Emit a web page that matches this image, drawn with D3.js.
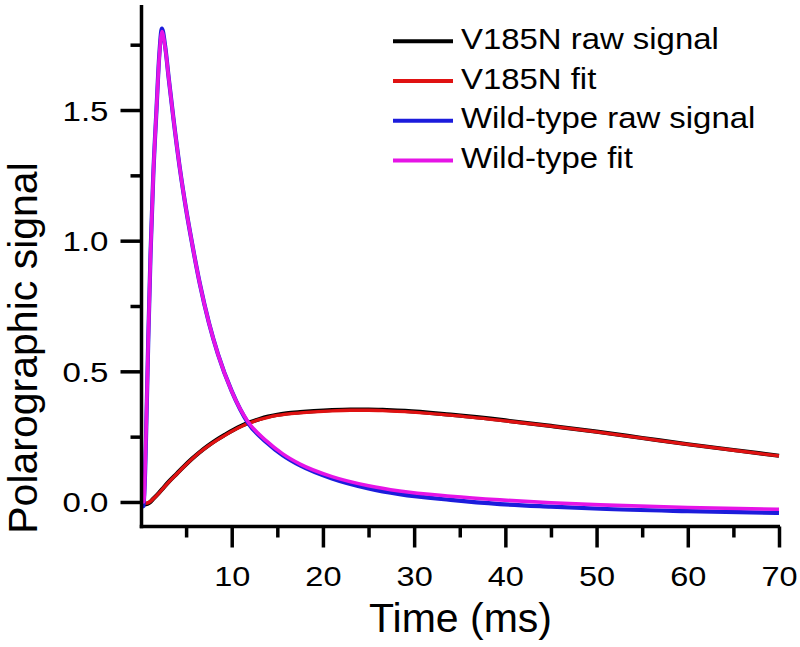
<!DOCTYPE html>
<html>
<head>
<meta charset="utf-8">
<script src="https://cdn.jsdelivr.net/npm/d3@7"></script>
<style>
  html, body { margin: 0; padding: 0; background: #fff; }
  svg { display: block; font-family: "Liberation Sans", Arial, Helvetica, sans-serif; }
</style>
</head>
<body>
<svg id="chart" width="800" height="647"></svg>
<script>
// ---- data ----
const timeWT      = [0, 0.35, 0.6, 0.85, 1.1, 1.4, 1.75, 2.05, 2.35, 2.7, 3.1, 3.6, 4.3, 5.0, 5.6, 6.5, 7.5, 8.5, 10, 11.8, 13.8, 15.6, 17.5, 21, 25, 28.4, 34, 39.4, 45, 50.4, 60, 70];
const wtFit       = [0, 0.0, 0.25, 0.62, 0.95, 1.25, 1.5, 1.7, 1.8, 1.74, 1.62, 1.47, 1.28, 1.12, 1.0, 0.836, 0.686, 0.565, 0.424, 0.306, 0.234, 0.184, 0.145, 0.097, 0.062, 0.042, 0.022, 0.008, -0.003, -0.011, -0.021, -0.028];
const wtRaw       = [-0.02, -0.015, 0.24, 0.62, 0.95, 1.25, 1.5, 1.705, 1.812, 1.745, 1.62, 1.47, 1.28, 1.12, 1.0, 0.836, 0.686, 0.565, 0.424, 0.302, 0.229, 0.179, 0.14, 0.09, 0.052, 0.03, 0.008, -0.008, -0.018, -0.026, -0.035, -0.042];

const timeV       = [0, 0.5, 1.0, 1.4, 2.0, 2.6, 3.2, 4.0, 4.7, 5.6, 6.5, 7.4, 8.35, 9.3, 10.2, 11.1, 12, 13, 14, 15, 16, 17.5, 19, 21, 23, 25, 27, 29, 34, 40, 45, 50, 55, 60, 65, 70];
const v185Fit     = [0, -0.005, 0.0, 0.012, 0.033, 0.057, 0.08, 0.108, 0.133, 0.163, 0.19, 0.214, 0.236, 0.256, 0.274, 0.29, 0.303, 0.315, 0.324, 0.331, 0.336, 0.341, 0.345, 0.349, 0.351, 0.351, 0.349, 0.346, 0.332, 0.31, 0.29, 0.268, 0.244, 0.22, 0.198, 0.176];
const v185Raw     = [-0.01, -0.009, -0.002, 0.012, 0.034, 0.058, 0.081, 0.109, 0.134, 0.164, 0.191, 0.215, 0.238, 0.258, 0.276, 0.292, 0.305, 0.317, 0.327, 0.334, 0.339, 0.344, 0.348, 0.352, 0.354, 0.354, 0.352, 0.349, 0.334, 0.312, 0.291, 0.269, 0.245, 0.221, 0.199, 0.177];

const xTicksMajor = [10, 20, 30, 40, 50, 60, 70];
const xTicksMinor = [5, 15, 25, 35, 45, 55, 65];
const yTicksMajor = [0.0, 0.5, 1.0, 1.5];
const yTicksMinor = [0.25, 0.75, 1.25, 1.75];

const legendLabels = ["V185N raw signal", "V185N fit", "Wild-type raw signal", "Wild-type fit"];
const seriesColors = ["#000000", "#e01212", "#1c1cdc", "#e614e6"];

// ---- layout ----
const svg = d3.select("#chart");
const x = d3.scaleLinear().domain([0, 70]).range([140.5, 779]);
const y = d3.scaleLinear().domain([-0.095, 1.9]).range([526.8, 5.5]);
const x0 = 141.5, yAxisY = 526.5;

// series lines
const line = d3.line().x(d => x(d[0])).y(d => y(d[1])).curve(d3.curveMonotoneX);
const zip = (a, b) => a.map((t, i) => [t, b[i]]);

const plot = svg.append("g");
plot.append("path").datum(zip(timeV, v185Raw)).attr("d", line)
  .attr("fill", "none").attr("stroke", seriesColors[0]).attr("stroke-width", 4.2).attr("stroke-linejoin", "round");
plot.append("path").datum(zip(timeV, v185Fit)).attr("d", line)
  .attr("fill", "none").attr("stroke", seriesColors[1]).attr("stroke-width", 3.3).attr("stroke-linejoin", "round");
plot.append("path").datum(zip(timeWT, wtRaw)).attr("d", line)
  .attr("fill", "none").attr("stroke", seriesColors[2]).attr("stroke-width", 4.2).attr("stroke-linejoin", "round");
plot.append("path").datum(zip(timeWT, wtFit)).attr("d", line)
  .attr("fill", "none").attr("stroke", seriesColors[3]).attr("stroke-width", 3.6).attr("stroke-linejoin", "round");

// ---- axes ----
const axW = 3.5;
function styleAxis(g) {
  g.select(".domain").remove();
  g.selectAll(".tick line").attr("stroke", "#000").attr("stroke-width", axW);
}
// x minor
svg.append("g").attr("transform", `translate(0,${yAxisY})`)
  .call(d3.axisBottom(x).tickValues(xTicksMinor).tickSize(11).tickFormat(""))
  .call(styleAxis);
// x major
const gx = svg.append("g").attr("transform", `translate(0,${yAxisY})`)
  .call(d3.axisBottom(x).tickValues(xTicksMajor).tickSize(21).tickFormat(d3.format("d")))
  .call(styleAxis);
gx.selectAll(".tick text")
  .attr("y", null).attr("dy", null)
  .attr("transform", "translate(0,59.5) scale(1.16,1)")
  .attr("font-size", 28).attr("fill", "#000").attr("font-family", "Liberation Sans, Arial, sans-serif");

// y minor
svg.append("g").attr("transform", `translate(${x0},0)`)
  .call(d3.axisLeft(y).tickValues(yTicksMinor).tickSize(11).tickFormat(""))
  .call(styleAxis);
// y major
const gy = svg.append("g").attr("transform", `translate(${x0},0)`)
  .call(d3.axisLeft(y).tickValues(yTicksMajor).tickSize(21).tickFormat(d3.format(".1f")))
  .call(styleAxis);
gy.selectAll(".tick text")
  .attr("x", null).attr("dy", null)
  .attr("text-anchor", "end")
  .attr("transform", "translate(-33,10) scale(1.18,1)")
  .attr("font-size", 28).attr("fill", "#000").attr("font-family", "Liberation Sans, Arial, sans-serif");

// axis lines
svg.append("line").attr("x1", x0).attr("x2", x0).attr("y1", 5).attr("y2", yAxisY + axW / 2)
  .attr("stroke", "#000").attr("stroke-width", axW);
svg.append("line").attr("x1", x0 - axW / 2).attr("x2", x(70) + 1).attr("y1", yAxisY).attr("y2", yAxisY)
  .attr("stroke", "#000").attr("stroke-width", axW);

// axis titles
svg.append("text").attr("x", 460.5).attr("y", 632).attr("text-anchor", "middle")
  .attr("font-size", 41).attr("fill", "#000").text("Time (ms)");
svg.append("text").attr("transform", "translate(37,348) rotate(-90)").attr("text-anchor", "middle")
  .attr("font-size", 41).attr("fill", "#000").text("Polarographic signal");

// ---- legend ----
const legendRowsY = [48.8, 88.5, 128.3, 168.1];
const leg = svg.append("g");
legendLabels.forEach((lab, i) => {
  const yy = legendRowsY[i];
  leg.append("line").attr("x1", 393).attr("x2", 453).attr("y1", yy - 7.5).attr("y2", yy - 7.5)
    .attr("stroke", seriesColors[i]).attr("stroke-width", 4);
  leg.append("text").attr("transform", `translate(461,${yy}) scale(1.135,1)`)
    .attr("font-size", 29).attr("fill", "#000").text(lab);
});
</script>
</body>
</html>
